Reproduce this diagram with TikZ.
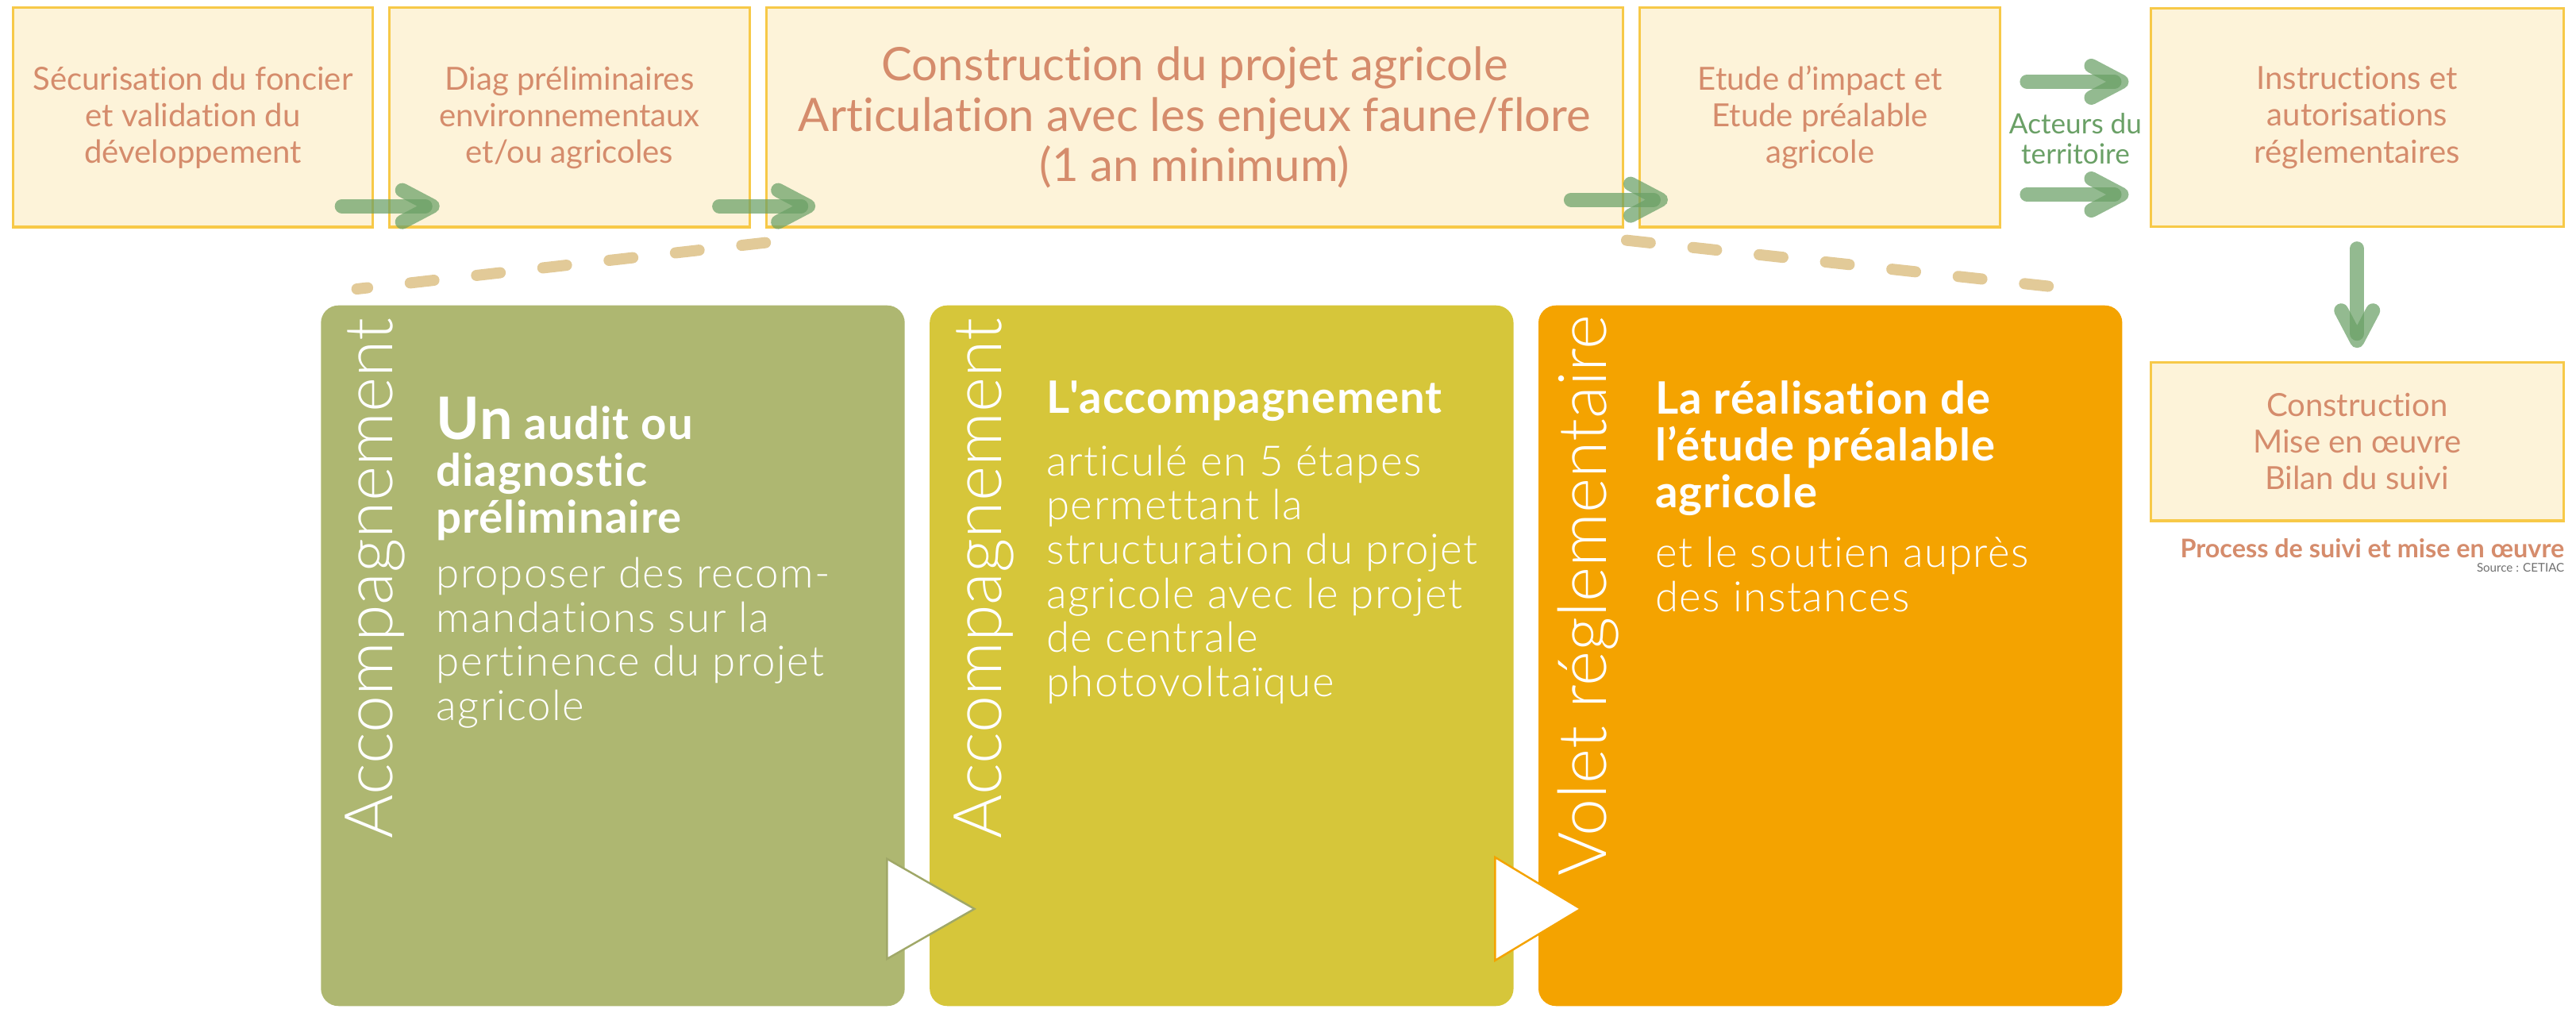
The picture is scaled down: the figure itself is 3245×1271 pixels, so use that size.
\documentclass[tikz,border=0pt]{standalone}
\usepackage{fontspec}
\setmainfont{Lato}[Ligatures={TeX,NoCommon}]
\newfontfamily\thinfont{Lato}[UprightFont=* Light, Ligatures={TeX,NoCommon}]
\newfontfamily\lightfont{Lato}[UprightFont=* Light, LetterSpace=3, Ligatures={TeX,NoCommon}]
\usetikzlibrary{arrows.meta,positioning}

\definecolor{boxfill}{HTML}{FDF3D9}
\definecolor{boxline}{HTML}{F7C948}
\definecolor{salmon}{HTML}{D58C6C}
\definecolor{leafgreen}{HTML}{6AA066}
\definecolor{sand}{HTML}{E2CA98}
\definecolor{olive}{HTML}{AEB771}
\definecolor{mustard}{HTML}{D6C63A}
\definecolor{amber}{HTML}{F4A300}
\definecolor{slate}{HTML}{707070}

\begin{document}
\begin{tikzpicture}[
  x=0.01cm, y=-0.01cm,
  node distance=0.18cm and 0.18cm,
  stage/.style={draw=boxline, line width=0.9pt, fill=boxfill, text=salmon, align=center,
    minimum height=2.76cm, inner sep=0pt, font=\fontsize{11.4}{13.1}\selectfont},
  panel/.style={fill=#1, rounded corners=0.22cm, minimum width=7.35cm, minimum height=8.82cm, inner sep=0pt},
  side/.style={rotate=90, anchor=base west, inner sep=0pt, text=white, font=\thinfont\fontsize{24}{24}\selectfont},
  head/.style={anchor=north west, inner sep=0pt, align=left, text=white,
    font=\bfseries\addfontfeatures{LetterSpace=2}\fontsize{16}{16.8}\selectfont},
  body/.style={inner sep=0pt, align=left, text=white, font=\lightfont\fontsize{15}{15.8}\selectfont},
  flow/.style={draw=leafgreen, draw opacity=0.72, line width=0.18cm, line cap=round,
    -{Straight Barb[length=0.38cm, width=0.4cm, round]}},
  guide/.style={draw=sand, line width=0.14cm, line cap=round, dash pattern=on 0.3cm off 0.54cm},
  playtri/.style={fill=white, draw=#1, line width=0.7pt}
]
\path[use as bounding box, fill=white] (0,0) rectangle (3245,1271);

% top row of stages
\node[stage, minimum width=4.52cm] (secur) at (243,148) {Sécurisation du foncier\\et validation du\\développement};
\node[stage, minimum width=4.54cm, right=of secur] (diag) {Diag préliminaires\\environnementaux\\et/ou agricoles};
\node[stage, minimum width=10.78cm, right=of diag, font=\fontsize{16.5}{18}\selectfont] (constr) {Construction du projet agricole\\Articulation avec les enjeux faune/flore\\(1 an minimum)};
\node[stage, minimum width=4.54cm, right=of constr] (etude) {Etude d’impact et\\Etude préalable\\agricole};
\node[stage, minimum width=5.2cm, minimum height=2.75cm, right=1.86cm of etude] (instr) {Instructions et\\autorisations\\réglementaires};
\node[stage, minimum width=5.2cm, minimum height=1.99cm, below=1.68cm of instr] (chantier) {Construction\\Mise en œuvre\\Bilan du suivi};

\path (etude) -- (instr) node[midway, yshift=-0.27cm, inner sep=0pt, align=center, text=leafgreen,
  font=\fontsize{10}{10.8}\selectfont] (acteurs) {Acteurs du\\territoire};

\node[below=0.2cm of chantier.south east, anchor=north east, inner sep=0pt, text=salmon,
  font=\bfseries\fontsize{9.2}{10}\selectfont] (caption) {Process de suivi et mise en œuvre};
\node[below=0.06cm of caption.south east, anchor=north east, inner sep=0pt, text=slate,
  font=\fontsize{4.3}{5}\selectfont] (source) {Source : CETIAC};

% green arrows between stages
\draw[flow] ([xshift=-0.4cm, yshift=0.28cm]secur.south east) -- ([xshift=0.65cm, yshift=0.28cm]diag.south west);
\draw[flow] ([xshift=-0.4cm, yshift=0.28cm]diag.south east) -- ([xshift=0.63cm, yshift=0.28cm]constr.south west);
\draw[flow] ([xshift=-0.67cm, yshift=0.36cm]constr.south east) -- ([xshift=0.37cm, yshift=0.36cm]etude.south west);
\draw[flow] ([xshift=0.32cm, yshift=0.45cm]etude.east) -- ([xshift=-0.26cm, yshift=0.45cm]instr.west);
\draw[flow] ([xshift=0.32cm, yshift=-0.97cm]etude.east) -- ([xshift=-0.26cm, yshift=-0.97cm]instr.west);
\draw[flow] ([yshift=-0.26cm]instr.south) -- ([yshift=0.17cm]chantier.north);

% the three panels
\node[panel=olive] (audit) at (772,826) {};
\node[panel=mustard, right=0.3cm of audit] (accomp) {};
\node[panel=amber, right=0.3cm of accomp] (regl) {};

% zoom lines from the stage above
\draw[guide] ([yshift=-0.18cm]constr.south west) -- ([xshift=0.46cm, yshift=0.2cm]audit.north west);
\draw[guide] ([xshift=0.03cm, yshift=-0.15cm]constr.south east) -- ([xshift=-0.9cm, yshift=0.23cm]regl.north east);

% play marks between panels
\draw[playtri=olive!92!black] ([xshift=-0.23cm, yshift=0.6cm]audit.south east) -- ++(0cm,1.26cm) -- ++(1.1cm,-0.63cm) -- cycle;
\draw[playtri=amber] ([xshift=-0.24cm, yshift=0.58cm]accomp.south east) -- ++(0cm,1.3cm) -- ++(1.08cm,-0.65cm) -- cycle;

% side titles
\node[side] (audit-side) at ([xshift=0.91cm, yshift=2.11cm]audit.south west) {Accompagnement};
\node[side] (accomp-side) at ([xshift=0.91cm, yshift=2.11cm]accomp.south west) {Accompagnement};
\node[side] (regl-side) at ([xshift=0.86cm, yshift=1.64cm]regl.south west) {Volet réglementaire};

% panel texts
\node[head] (audit-head) at ([xshift=1.45cm, yshift=-1.15cm]audit.north west)
  {{\fontsize{21}{16.8}\selectfont Un} audit ou\\diagnostic\\préliminaire};
\node[body, below=0.2cm of audit-head.south west, anchor=north west] (audit-body)
  {proposer des recom-\\mandations sur la\\pertinence du projet\\agricole};

\node[head] (accomp-head) at ([xshift=1.47cm, yshift=-0.95cm]accomp.north west)
  {L\textquotesingle accompagnement};
\node[body, below=0.29cm of accomp-head.south west, anchor=north west] (accomp-body)
  {articulé en 5 étapes\\permettant la\\structuration du projet\\agricole avec le projet\\de centrale\\photovoltaïque};

\node[head] (regl-head) at ([xshift=1.47cm, yshift=-0.95cm]regl.north west)
  {La réalisation de\\l’étude préalable\\agricole};
\node[body, below=0.25cm of regl-head.south west, anchor=north west] (regl-body)
  {et le soutien auprès\\des instances};
\end{tikzpicture}
\end{document}
